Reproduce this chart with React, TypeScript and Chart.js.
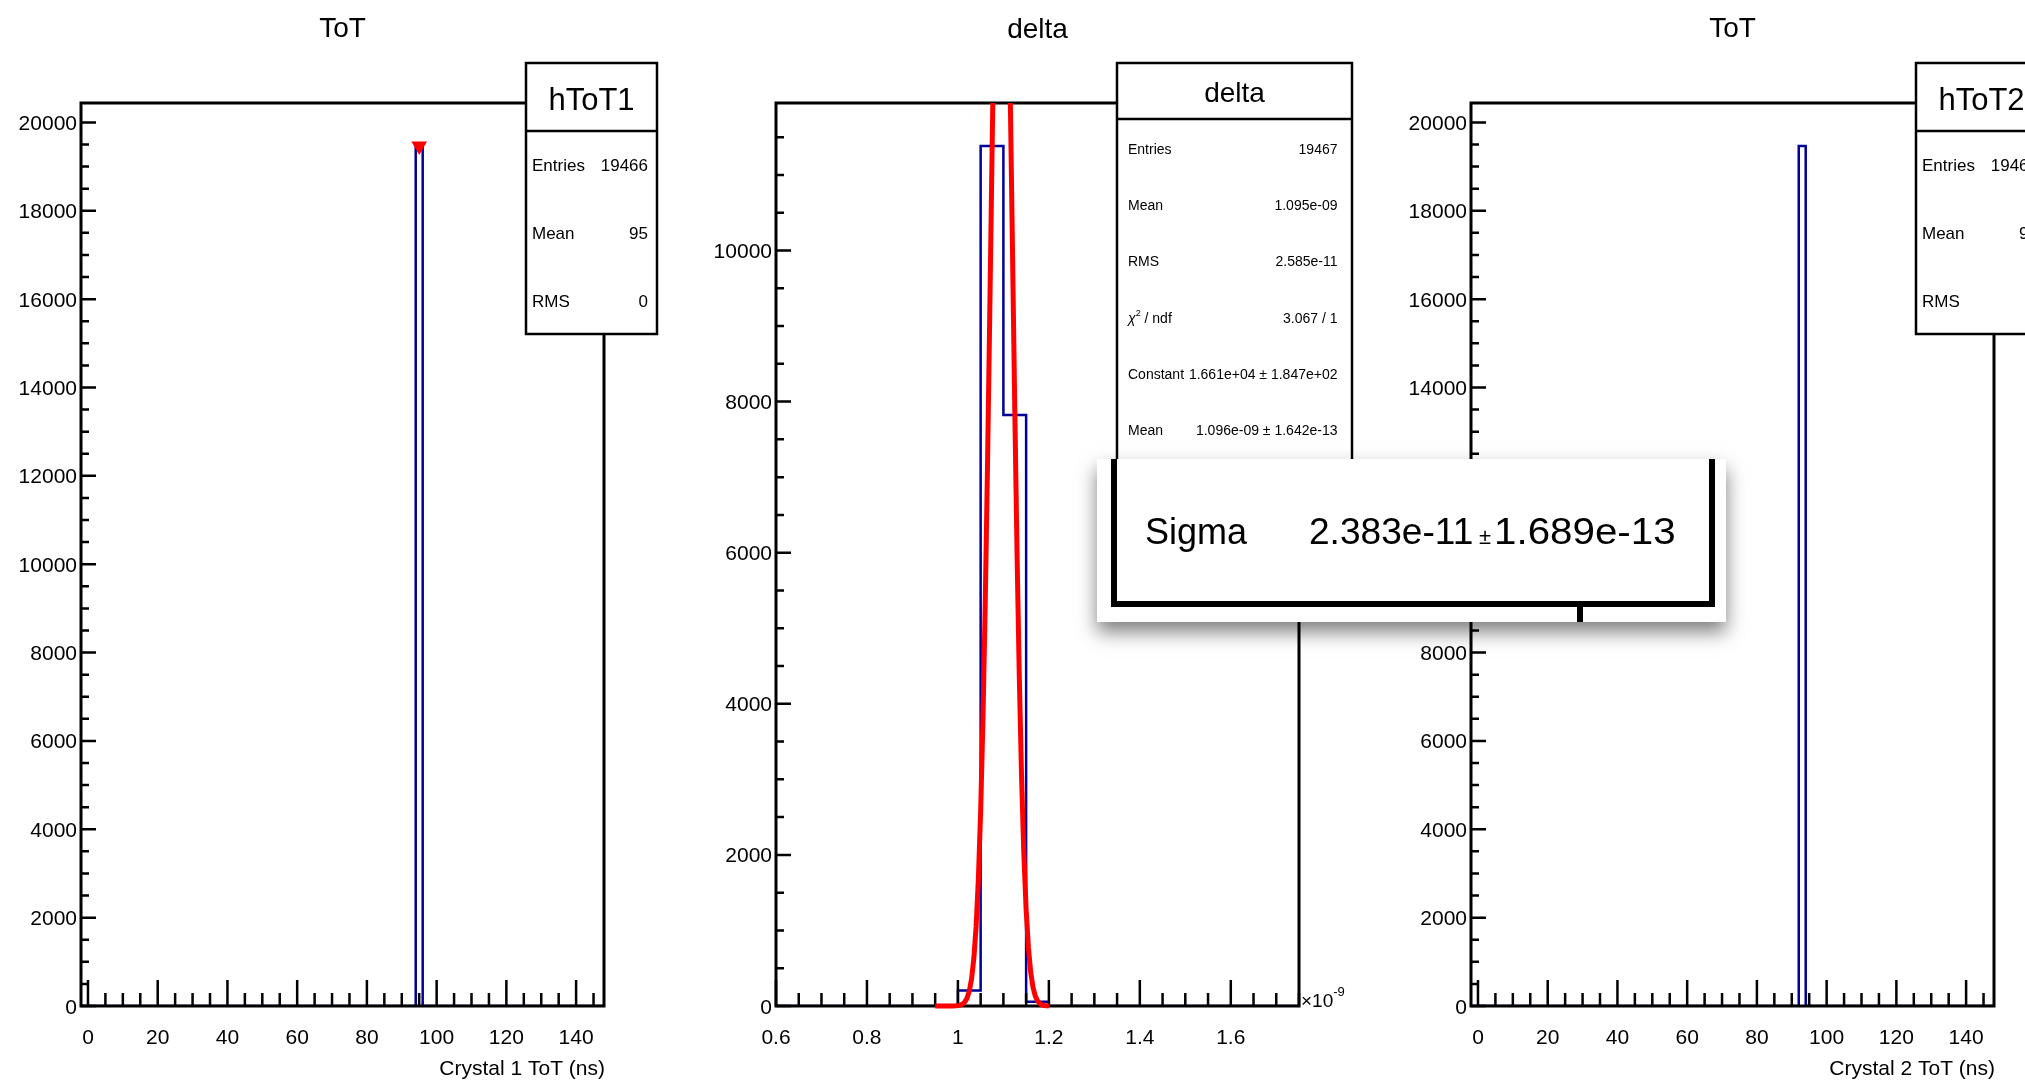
import React, { useEffect, useRef } from 'react';
import { Chart, registerables } from 'chart.js';
Chart.register(...registerables);

const FONT = '"Liberation Sans", Arial, Helvetica, sans-serif';

// ---------------- data ----------------
// Panel 1 : hToT1
const tot1Title = 'ToT';
const tot1Name = 'hToT1';
const tot1XTitle = 'Crystal 1 ToT (ns)';
const tot1Range = [-2, 148];
const tot1BinEdges = [-2, 94, 96, 148];
const tot1BinCounts = [0, 19466, 0];
const tot1Marker = [95, 19466];
const tot1StatLabels = ['Entries', 'Mean', 'RMS'];
const tot1StatValues = ['19466', '95', '0'];

// Panel 2 : delta
const deltaTitle = 'delta';
const deltaName = 'delta';
const deltaRange = [0.6, 1.75];
const deltaBinEdges = [0.6, 1.0, 1.05, 1.1, 1.15, 1.2, 1.75];
const deltaBinCounts = [0, 205, 11383, 7822, 57, 0];
const deltaFitX = [
  0.95, 0.955, 0.96, 0.965, 0.97, 0.975, 0.98, 0.985, 0.99, 0.995,
  1.0, 1.005, 1.01, 1.015, 1.02, 1.025, 1.03, 1.035, 1.04, 1.045,
  1.05, 1.055, 1.06, 1.065, 1.07, 1.075, 1.08, 1.085, 1.09, 1.095,
  1.1, 1.105, 1.11, 1.115, 1.12, 1.125, 1.13, 1.135, 1.14, 1.145,
  1.15, 1.155, 1.16, 1.165, 1.17, 1.175, 1.18, 1.185, 1.19, 1.195, 1.2,
];
const deltaFitY = [
  0, 0, 0, 0, 0.01, 0.04, 0.12, 0.32, 0.84, 2.1,
  5.0, 11.3, 24.7, 51.5, 102.6, 196, 358, 627, 1050, 1682,
  2578, 3781, 5307, 7126, 9160, 11265, 13258, 14932, 16092, 16595,
  16377, 15467, 13977, 12087, 10003, 7921, 6001, 4353, 3021, 2007,
  1275, 775, 451, 251, 134, 68, 33, 15.5, 6.9, 3.0, 1.2,
];
const deltaStatLabels = ['Entries', 'Mean', 'RMS', 'χ2 / ndf', 'Constant', 'Mean', 'Sigma'];
const deltaStatValues = [
  '19467', '1.095e-09', '2.585e-11', '3.067 / 1',
  '1.661e+04 ± 1.847e+02', '1.096e-09 ± 1.642e-13', '2.383e-11 ± 1.689e-13',
];
const deltaExponent = '-9';

// Panel 3 : hToT2
const tot2Title = 'ToT';
const tot2Name = 'hToT2';
const tot2XTitle = 'Crystal 2 ToT (ns)';
const tot2Range = [-2, 148];
const tot2BinEdges = [-2, 92, 94, 148];
const tot2BinCounts = [0, 19466, 0];
const tot2StatLabels = ['Entries', 'Mean', 'RMS'];
const tot2StatValues = ['19466', '93', '0'];

// Axis ticks
const totXTicks = [0, 20, 40, 60, 80, 100, 120, 140];
const totXLabels = ['0', '20', '40', '60', '80', '100', '120', '140'];
const totYTicks = [0, 2000, 4000, 6000, 8000, 10000, 12000, 14000, 16000, 18000, 20000];
const totXMinorStep = 5;
const totYMinorStep = 500;
const deltaXTicks = [0.6, 0.8, 1.0, 1.2, 1.4, 1.6];
const deltaXLabels = ['0.6', '0.8', '1', '1.2', '1.4', '1.6'];
const deltaYTicks = [0, 2000, 4000, 6000, 8000, 10000];
const deltaXMinorStep = 0.05;
const deltaYMinorStep = 500;

// ---------------- helpers ----------------
function histPoints(edges: number[], counts: number[]) {
  return edges.map((e, i) => ({ x: e, y: counts[Math.min(i, counts.length - 1)] }));
}
function minorTicks(min: number, max: number, step: number) {
  const out: number[] = [];
  const a = Math.ceil(min / step - 1e-9);
  const b = Math.floor(max / step + 1e-9);
  for (let i = a; i <= b; i++) out.push(i * step);
  return out;
}

type StatsCfg = {
  name: string; labels: string[]; values: string[];
  left: number; right: number; top: number; divider: number; bottom: number;
  headerFont: number; headerBase: number; rowFont: number; rowBase: number; rowStep: number;
  labelX: number; valueX: number;
};
type DecorCfg = {
  title: string; titleBase: number; frameAfter: number;
  xMajor: number[]; xLabels: string[]; xMinor: number[];
  yMajor: number[]; yMinor: number[];
  xTitle?: string; exponent?: string;
  stats: StatsCfg;
};

function drawFrame(chart: any, o: DecorCfg) {
  const ctx = chart.ctx as CanvasRenderingContext2D;
  const { left, right, top, bottom } = chart.chartArea;
  const xs = chart.scales.x, ys = chart.scales.y;
  ctx.save();
  ctx.strokeStyle = '#000';
  ctx.fillStyle = '#000';
  ctx.lineCap = 'butt';
  ctx.lineWidth = 2.5;
  ctx.beginPath();
  for (const v of o.xMinor) { const p = xs.getPixelForValue(v); ctx.moveTo(p, bottom); ctx.lineTo(p, bottom - 13); }
  for (const v of o.xMajor) { const p = xs.getPixelForValue(v); ctx.moveTo(p, bottom); ctx.lineTo(p, bottom - 26); }
  for (const v of o.yMinor) { const p = ys.getPixelForValue(v); ctx.moveTo(left, p); ctx.lineTo(left + 8, p); }
  for (const v of o.yMajor) { const p = ys.getPixelForValue(v); ctx.moveTo(left, p); ctx.lineTo(left + 15, p); }
  ctx.stroke();
  ctx.lineWidth = 3;
  ctx.strokeRect(left, top, right - left, bottom - top);
  ctx.restore();
}

function makeDecor(o: DecorCfg) {
  return {
    id: 'rootDecor',
    afterDatasetDraw(chart: any, args: any) {
      if (args.index === o.frameAfter) drawFrame(chart, o);
    },
    afterDatasetsDraw(chart: any) {
      const ctx = chart.ctx as CanvasRenderingContext2D;
      const { left, right } = chart.chartArea;
      const xs = chart.scales.x, ys = chart.scales.y;
      ctx.save();
      ctx.strokeStyle = '#000';
      ctx.fillStyle = '#000';
      // tick labels
      ctx.font = `21px ${FONT}`;
      ctx.textBaseline = 'alphabetic';
      ctx.textAlign = 'right';
      for (const v of o.yMajor) ctx.fillText(String(v), left - 4, ys.getPixelForValue(v) + 7.5);
      ctx.textAlign = 'center';
      o.xMajor.forEach((v, i) => ctx.fillText(o.xLabels[i], xs.getPixelForValue(v), 1044));
      if (o.xTitle) { ctx.textAlign = 'right'; ctx.fillText(o.xTitle, right + 1, 1075); }
      if (o.exponent) {
        ctx.textAlign = 'left';
        ctx.font = `19px ${FONT}`;
        ctx.fillText('×10', right + 2, 1007);
        const w = ctx.measureText('×10').width;
        ctx.font = `13px ${FONT}`;
        ctx.fillText(o.exponent, right + 2 + w, 996);
      }
      // title
      ctx.font = `28px ${FONT}`;
      ctx.textAlign = 'center';
      ctx.fillText(o.title, (left + right) / 2, o.titleBase);
      // stats box
      const s = o.stats;
      ctx.fillStyle = '#fff';
      ctx.fillRect(s.left, s.top, s.right - s.left, s.bottom - s.top);
      ctx.lineWidth = 2.5;
      ctx.strokeRect(s.left, s.top, s.right - s.left, s.bottom - s.top);
      ctx.beginPath();
      ctx.moveTo(s.left, s.divider); ctx.lineTo(s.right, s.divider);
      ctx.stroke();
      ctx.fillStyle = '#000';
      ctx.font = `${s.headerFont}px ${FONT}`;
      ctx.textAlign = 'center';
      ctx.fillText(s.name, (s.left + s.right) / 2, s.headerBase);
      s.labels.forEach((lab, i) => {
        const y = s.rowBase + i * s.rowStep;
        ctx.textAlign = 'left';
        if (lab.startsWith('χ')) {
          ctx.font = `italic ${s.rowFont}px ${FONT}`;
          ctx.fillText('χ', s.labelX, y);
          let x = s.labelX + ctx.measureText('χ').width;
          ctx.font = `${Math.round(s.rowFont * 0.65)}px ${FONT}`;
          ctx.fillText('2', x, y - s.rowFont * 0.45);
          x += ctx.measureText('2').width;
          ctx.font = `${s.rowFont}px ${FONT}`;
          ctx.fillText(' / ndf', x, y);
        } else {
          ctx.font = `${s.rowFont}px ${FONT}`;
          ctx.fillText(lab, s.labelX, y);
        }
        ctx.font = `${s.rowFont}px ${FONT}`;
        ctx.textAlign = 'right';
        ctx.fillText(s.values[i], s.valueX, y);
      });
      ctx.restore();
    },
  };
}

const HIST_COLOR = '#000099';

function Panel({ left, datasets, xRange, yMax, decor }: any) {
  const ref = useRef<HTMLCanvasElement | null>(null);
  useEffect(() => {
    if (!ref.current) return;
    const chart = new Chart(ref.current, {
      type: 'line',
      data: { datasets },
      options: {
        animation: false,
        responsive: false,
        devicePixelRatio: 1,
        events: [],
        layout: { padding: { left: 81, right: 91, top: 103, bottom: 74 } },
        plugins: { legend: { display: false }, title: { display: false }, tooltip: { enabled: false } },
        scales: {
          x: { type: 'linear', min: xRange[0], max: xRange[1], display: false },
          y: { type: 'linear', min: 0, max: yMax, display: false },
        },
      },
      plugins: [makeDecor(decor)],
    } as any);
    return () => chart.destroy();
  }, []);
  return (
    <canvas
      ref={ref}
      width={695}
      height={1080}
      style={{ position: 'absolute', left, top: 0, width: 695, height: 1080 }}
    />
  );
}

const histDataset = (edges: number[], counts: number[]) => ({
  data: histPoints(edges, counts),
  borderColor: HIST_COLOR,
  borderWidth: 2.5,
  stepped: true,
  pointRadius: 0,
  fill: false,
  clip: 0,
});

export default function App() {
  const totStatsLayout = {
    left: 526, right: 657, top: 63, divider: 131, bottom: 334,
    headerFont: 31, headerBase: 110, rowFont: 17, rowBase: 171, rowStep: 68,
    labelX: 532, valueX: 648,
  };
  const p1 = {
    datasets: [
      {
        data: [{ x: tot1Marker[0], y: tot1Marker[1] }],
        showLine: false, pointStyle: 'triangle', rotation: 180, pointRadius: 9,
        backgroundColor: '#ff0000', borderColor: '#ff0000', borderWidth: 0, clip: false,
      },
      histDataset(tot1BinEdges, tot1BinCounts),
    ],
    xRange: tot1Range,
    yMax: 1.05 * Math.max(...tot1BinCounts),
    decor: {
      title: tot1Title, titleBase: 36.5, frameAfter: 1,
      xMajor: totXTicks, xLabels: totXLabels, xMinor: minorTicks(tot1Range[0], tot1Range[1], totXMinorStep),
      yMajor: totYTicks, yMinor: minorTicks(0, 1.05 * Math.max(...tot1BinCounts), totYMinorStep),
      xTitle: tot1XTitle,
      stats: { name: tot1Name, labels: tot1StatLabels, values: tot1StatValues, ...totStatsLayout },
    },
  };
  const dMax = 1.05 * Math.max(...deltaBinCounts);
  const p2 = {
    datasets: [
      {
        data: deltaFitX.map((x, i) => ({ x, y: deltaFitY[i] })),
        borderColor: '#ff0000', borderWidth: 5, pointRadius: 0, tension: 0, fill: false,
        clip: { left: 0, top: 0, right: 0, bottom: 4 },
      },
      histDataset(deltaBinEdges, deltaBinCounts),
    ],
    xRange: deltaRange,
    yMax: dMax,
    decor: {
      title: deltaTitle, titleBase: 38, frameAfter: 1,
      xMajor: deltaXTicks, xLabels: deltaXLabels, xMinor: minorTicks(deltaRange[0], deltaRange[1], deltaXMinorStep),
      yMajor: deltaYTicks, yMinor: minorTicks(0, dMax, deltaYMinorStep),
      exponent: deltaExponent,
      stats: {
        name: deltaName, labels: deltaStatLabels, values: deltaStatValues,
        left: 422, right: 657, top: 63, divider: 119, bottom: 517,
        headerFont: 28, headerBase: 101.5, rowFont: 14, rowBase: 154, rowStep: 56.2,
        labelX: 433, valueX: 642.5,
      },
    },
  };
  const p3 = {
    datasets: [histDataset(tot2BinEdges, tot2BinCounts)],
    xRange: tot2Range,
    yMax: 1.05 * Math.max(...tot2BinCounts),
    decor: {
      title: tot2Title, titleBase: 36.5, frameAfter: 0,
      xMajor: totXTicks, xLabels: totXLabels, xMinor: minorTicks(tot2Range[0], tot2Range[1], totXMinorStep),
      yMajor: totYTicks, yMinor: minorTicks(0, 1.05 * Math.max(...tot2BinCounts), totYMinorStep),
      xTitle: tot2XTitle,
      stats: { name: tot2Name, labels: tot2StatLabels, values: tot2StatValues, ...totStatsLayout },
    },
  };

  const sigmaLabel = deltaStatLabels[6];
  const [sigVal, sigErr] = deltaStatValues[6].split(' ± ');
  const bar = (l: number, t: number, w: number, h: number) => (
    <div style={{ position: 'absolute', left: l, top: t, width: w, height: h, background: '#000' }} />
  );
  const txt = (l: number, t: number, size: number, s: string, sx = 1) => (
    <span style={{
      position: 'absolute', left: l, top: t, fontFamily: FONT, fontSize: size, lineHeight: `${size}px`,
      whiteSpace: 'nowrap', color: '#000', transform: `scaleX(${sx})`, transformOrigin: 'left center',
    }}>{s}</span>
  );

  return (
    <div style={{ position: 'fixed', left: 0, top: 0, width: 2025, height: 1080, overflow: 'hidden', background: '#fff' }}>
      <Panel left={0} {...p1} />
      <Panel left={695} {...p2} />
      <Panel left={1390} {...p3} />
      <div style={{
        position: 'absolute', left: 1097, top: 459, width: 629, height: 163, background: '#fff',
        boxShadow: '0 10px 18px rgba(0,0,0,0.5)', zIndex: 5,
      }}>
        {bar(14, 0, 6, 148)}
        {bar(14, 142, 604, 6)}
        {bar(612, 0, 6, 148)}
        {bar(480, 148, 6, 15)}
        {txt(48, 55, 36, sigmaLabel)}
        {txt(212, 55, 36, sigVal, 1.03)}
        {txt(382, 67, 22, '±')}
        {txt(397, 55, 36, sigErr, 1.12)}
      </div>
    </div>
  );
}
